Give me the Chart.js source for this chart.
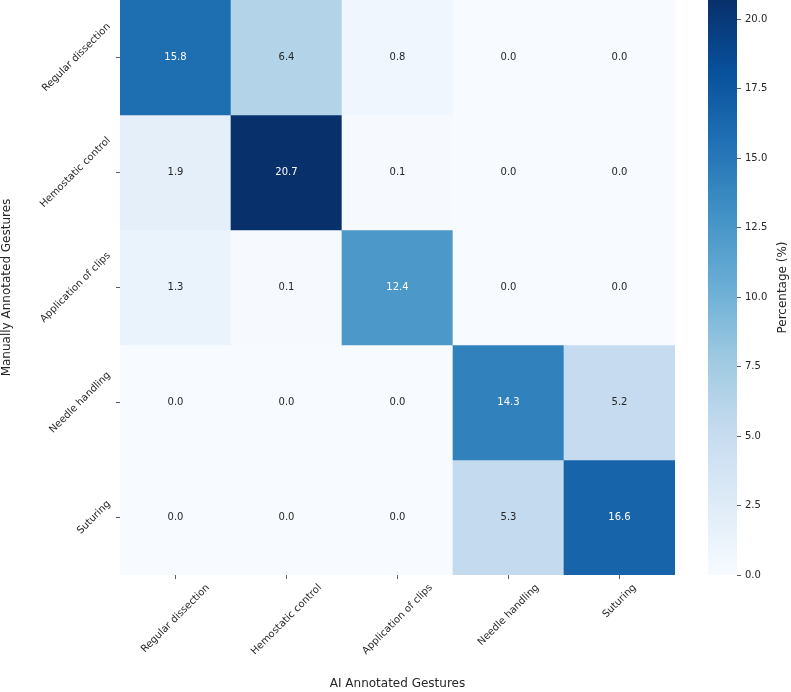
<!DOCTYPE html>
<html>
<head>
<meta charset="utf-8">
<script src="https://cdn.jsdelivr.net/npm/chart.js@4.4.1/dist/chart.umd.min.js"></script>
<style>
  html, body { margin: 0; padding: 0; background: #fff; }
  #wrap { position: relative; width: 791px; height: 692px; }
  #heat { position: absolute; left: 0; top: 0; }
  #cbar { position: absolute; left: 680px; top: 0; }
</style>
</head>
<body>
<div id="wrap">
  <canvas id="heat" width="791" height="692"></canvas>
  <canvas id="cbar" width="111" height="692"></canvas>
</div>
<script>
const gestures = ['Regular dissection', 'Hemostatic control', 'Application of clips', 'Needle handling', 'Suturing'];
// one row per manual label, columns = AI label (percent)
const rowRegular = [15.8, 6.4, 0.8, 0.0, 0.0];
const rowHemostatic = [1.9, 20.7, 0.1, 0.0, 0.0];
const rowClips = [1.3, 0.1, 12.4, 0.0, 0.0];
const rowNeedle = [0.0, 0.0, 0.0, 14.3, 5.2];
const rowSuturing = [0.0, 0.0, 0.0, 5.3, 16.6];
const rows = [rowRegular, rowHemostatic, rowClips, rowNeedle, rowSuturing];
const cbarTicks = [0, 2.5, 5, 7.5, 10, 12.5, 15, 17.5, 20];

const vmin = 0;
const vmax = Math.max(...rows.flat());
const FONT = '"DejaVu Sans", sans-serif';
const TXT = '#262626';

// matplotlib Blues
const blues = ['#f7fbff', '#deebf7', '#c6dbef', '#9ecae1', '#6baed6', '#4292c6', '#2171b5', '#08519c', '#08306b'];
const hexRgb = h => [1, 3, 5].map(i => parseInt(h.substr(i, 2), 16));
function bluesRgb(t) {
    t = Math.min(1, Math.max(0, t)) * (blues.length - 1);
    const i = Math.min(Math.floor(t), blues.length - 2), f = t - i;
    const a = hexRgb(blues[i]), b = hexRgb(blues[i + 1]);
    return a.map((c, k) => Math.round(c + (b[k] - c) * f));
}
const rgbStr = c => `rgb(${c[0]},${c[1]},${c[2]})`;
function lum(c) {
    const l = c.map(v => { v /= 255; return v <= 0.03928 ? v / 12.92 : Math.pow((v + 0.055) / 1.055, 2.4); });
    return 0.2126 * l[0] + 0.7152 * l[1] + 0.0722 * l[2];
}
const cellRgb = v => bluesRgb((v - vmin) / (vmax - vmin));

const cellText = {
    id: 'cellText',
    afterDatasetsDraw(chart) {
        const ctx = chart.ctx;
        ctx.save();
        ctx.font = '10px ' + FONT;
        ctx.textAlign = 'center';
        ctx.textBaseline = 'middle';
        chart.data.datasets.forEach((ds, r) => {
            chart.getDatasetMeta(r).data.forEach((bar, c) => {
                const p = bar.getProps(['x', 'y', 'base'], true);
                const v = rows[r][c];
                ctx.fillStyle = lum(cellRgb(v)) > 0.408 ? TXT : '#ffffff';
                ctx.fillText(v.toFixed(1), p.x, (p.y + p.base) / 2);
            });
        });
        ctx.restore();
    }
};

// rotated tick labels, centred like matplotlib rotation=45
const tickLabels = {
    id: 'tickLabels',
    afterDraw(chart) {
        const ctx = chart.ctx, area = chart.chartArea;
        const xs = chart.scales.x, ys = chart.scales.y;
        const h = 11.5, k = 1 / (2 * Math.SQRT2);
        ctx.save();
        ctx.font = '10px ' + FONT;
        ctx.fillStyle = TXT;
        ctx.textAlign = 'center';
        ctx.textBaseline = 'middle';
        gestures.forEach((g, i) => {
            const w = ctx.measureText(g).width;
            const d = (w + h) * k;
            ctx.save();
            ctx.translate(xs.getPixelForTick(i), area.bottom + 7 + d);
            ctx.rotate(-Math.PI / 4);
            ctx.fillText(g, 0, 0);
            ctx.restore();
            ctx.save();
            ctx.translate(area.left - 7 - d, ys.getPixelForValue(i + 0.5));
            ctx.rotate(-Math.PI / 4);
            ctx.fillText(g, 0, 0);
            ctx.restore();
        });
        ctx.restore();
    }
};

const cbarTitle = {
    id: 'cbarTitle',
    afterDraw(chart) {
        const ctx = chart.ctx, a = chart.chartArea;
        ctx.save();
        ctx.font = '12px ' + FONT;
        ctx.fillStyle = TXT;
        ctx.textAlign = 'center';
        ctx.textBaseline = 'middle';
        ctx.translate(chart.width - 8, (a.top + a.bottom) / 2);
        ctx.rotate(-Math.PI / 2);
        ctx.fillText('Percentage (%)', 0, 0);
        ctx.restore();
    }
};

new Chart(document.getElementById('heat'), {
    type: 'bar',
    data: {
        labels: gestures,
        datasets: rows.map((row, r) => ({
            label: gestures[r],
            data: row.map(() => 1),
            backgroundColor: row.map(v => rgbStr(cellRgb(v))),
            borderWidth: 0,
            barPercentage: 1,
            categoryPercentage: 1
        }))
    },
    options: {
        responsive: false,
        animation: false,
        events: [],
        layout: { padding: { top: 0, right: 116, bottom: 0, left: 0 } },
        plugins: { legend: { display: false }, tooltip: { enabled: false } },
        scales: {
            x: {
                stacked: true,
                border: { display: false },
                grid: { offset: false, drawOnChartArea: false, tickLength: 4, color: '#333', lineWidth: 0.8 },
                ticks: { display: false },
                title: { display: true, text: 'AI Annotated Gestures', color: TXT, font: { family: FONT, size: 12 }, padding: { top: 0, bottom: 1 } },
                afterFit: s => { s.height = 117; }
            },
            y: {
                stacked: true,
                reverse: true,
                min: 0,
                max: gestures.length,
                border: { display: false },
                grid: { drawOnChartArea: false, tickLength: 4, color: '#333', lineWidth: 0.8 },
                ticks: { display: false },
                afterBuildTicks: s => { s.ticks = gestures.map((g, i) => ({ value: i + 0.5 })); },
                title: { display: true, text: 'Manually Annotated Gestures', color: TXT, font: { family: FONT, size: 12 }, padding: 0 },
                afterFit: s => { s.width = 120; }
            }
        }
    },
    plugins: [cellText, tickLabels]
});

new Chart(document.getElementById('cbar'), {
    type: 'bar',
    data: {
        labels: [''],
        datasets: [{
            data: [[vmin, vmax]],
            borderWidth: 0,
            barPercentage: 1,
            categoryPercentage: 1,
            backgroundColor: ctx => {
                const a = ctx.chart.chartArea;
                if (!a) return blues[4];
                const g = ctx.chart.ctx.createLinearGradient(0, a.bottom, 0, a.top);
                blues.forEach((c, i) => g.addColorStop(i / (blues.length - 1), c));
                return g;
            }
        }]
    },
    options: {
        responsive: false,
        animation: false,
        events: [],
        layout: { padding: { top: 0, right: 0, bottom: 117, left: 28 } },
        plugins: { legend: { display: false }, tooltip: { enabled: false } },
        scales: {
            x: { display: false },
            y: {
                position: 'right',
                min: vmin,
                max: vmax,
                border: { display: false },
                grid: { drawOnChartArea: false, tickLength: 4, color: '#333', lineWidth: 0.8 },
                afterBuildTicks: s => { s.ticks = cbarTicks.map(v => ({ value: v })); },
                ticks: { padding: 4, color: TXT, font: { family: FONT, size: 10 }, callback: v => Number(v).toFixed(1) },
                afterFit: s => { s.width = 54; s.paddingTop = 0; s.paddingBottom = 0; }
            }
        }
    },
    plugins: [cbarTitle]
});
</script>
</body>
</html>
